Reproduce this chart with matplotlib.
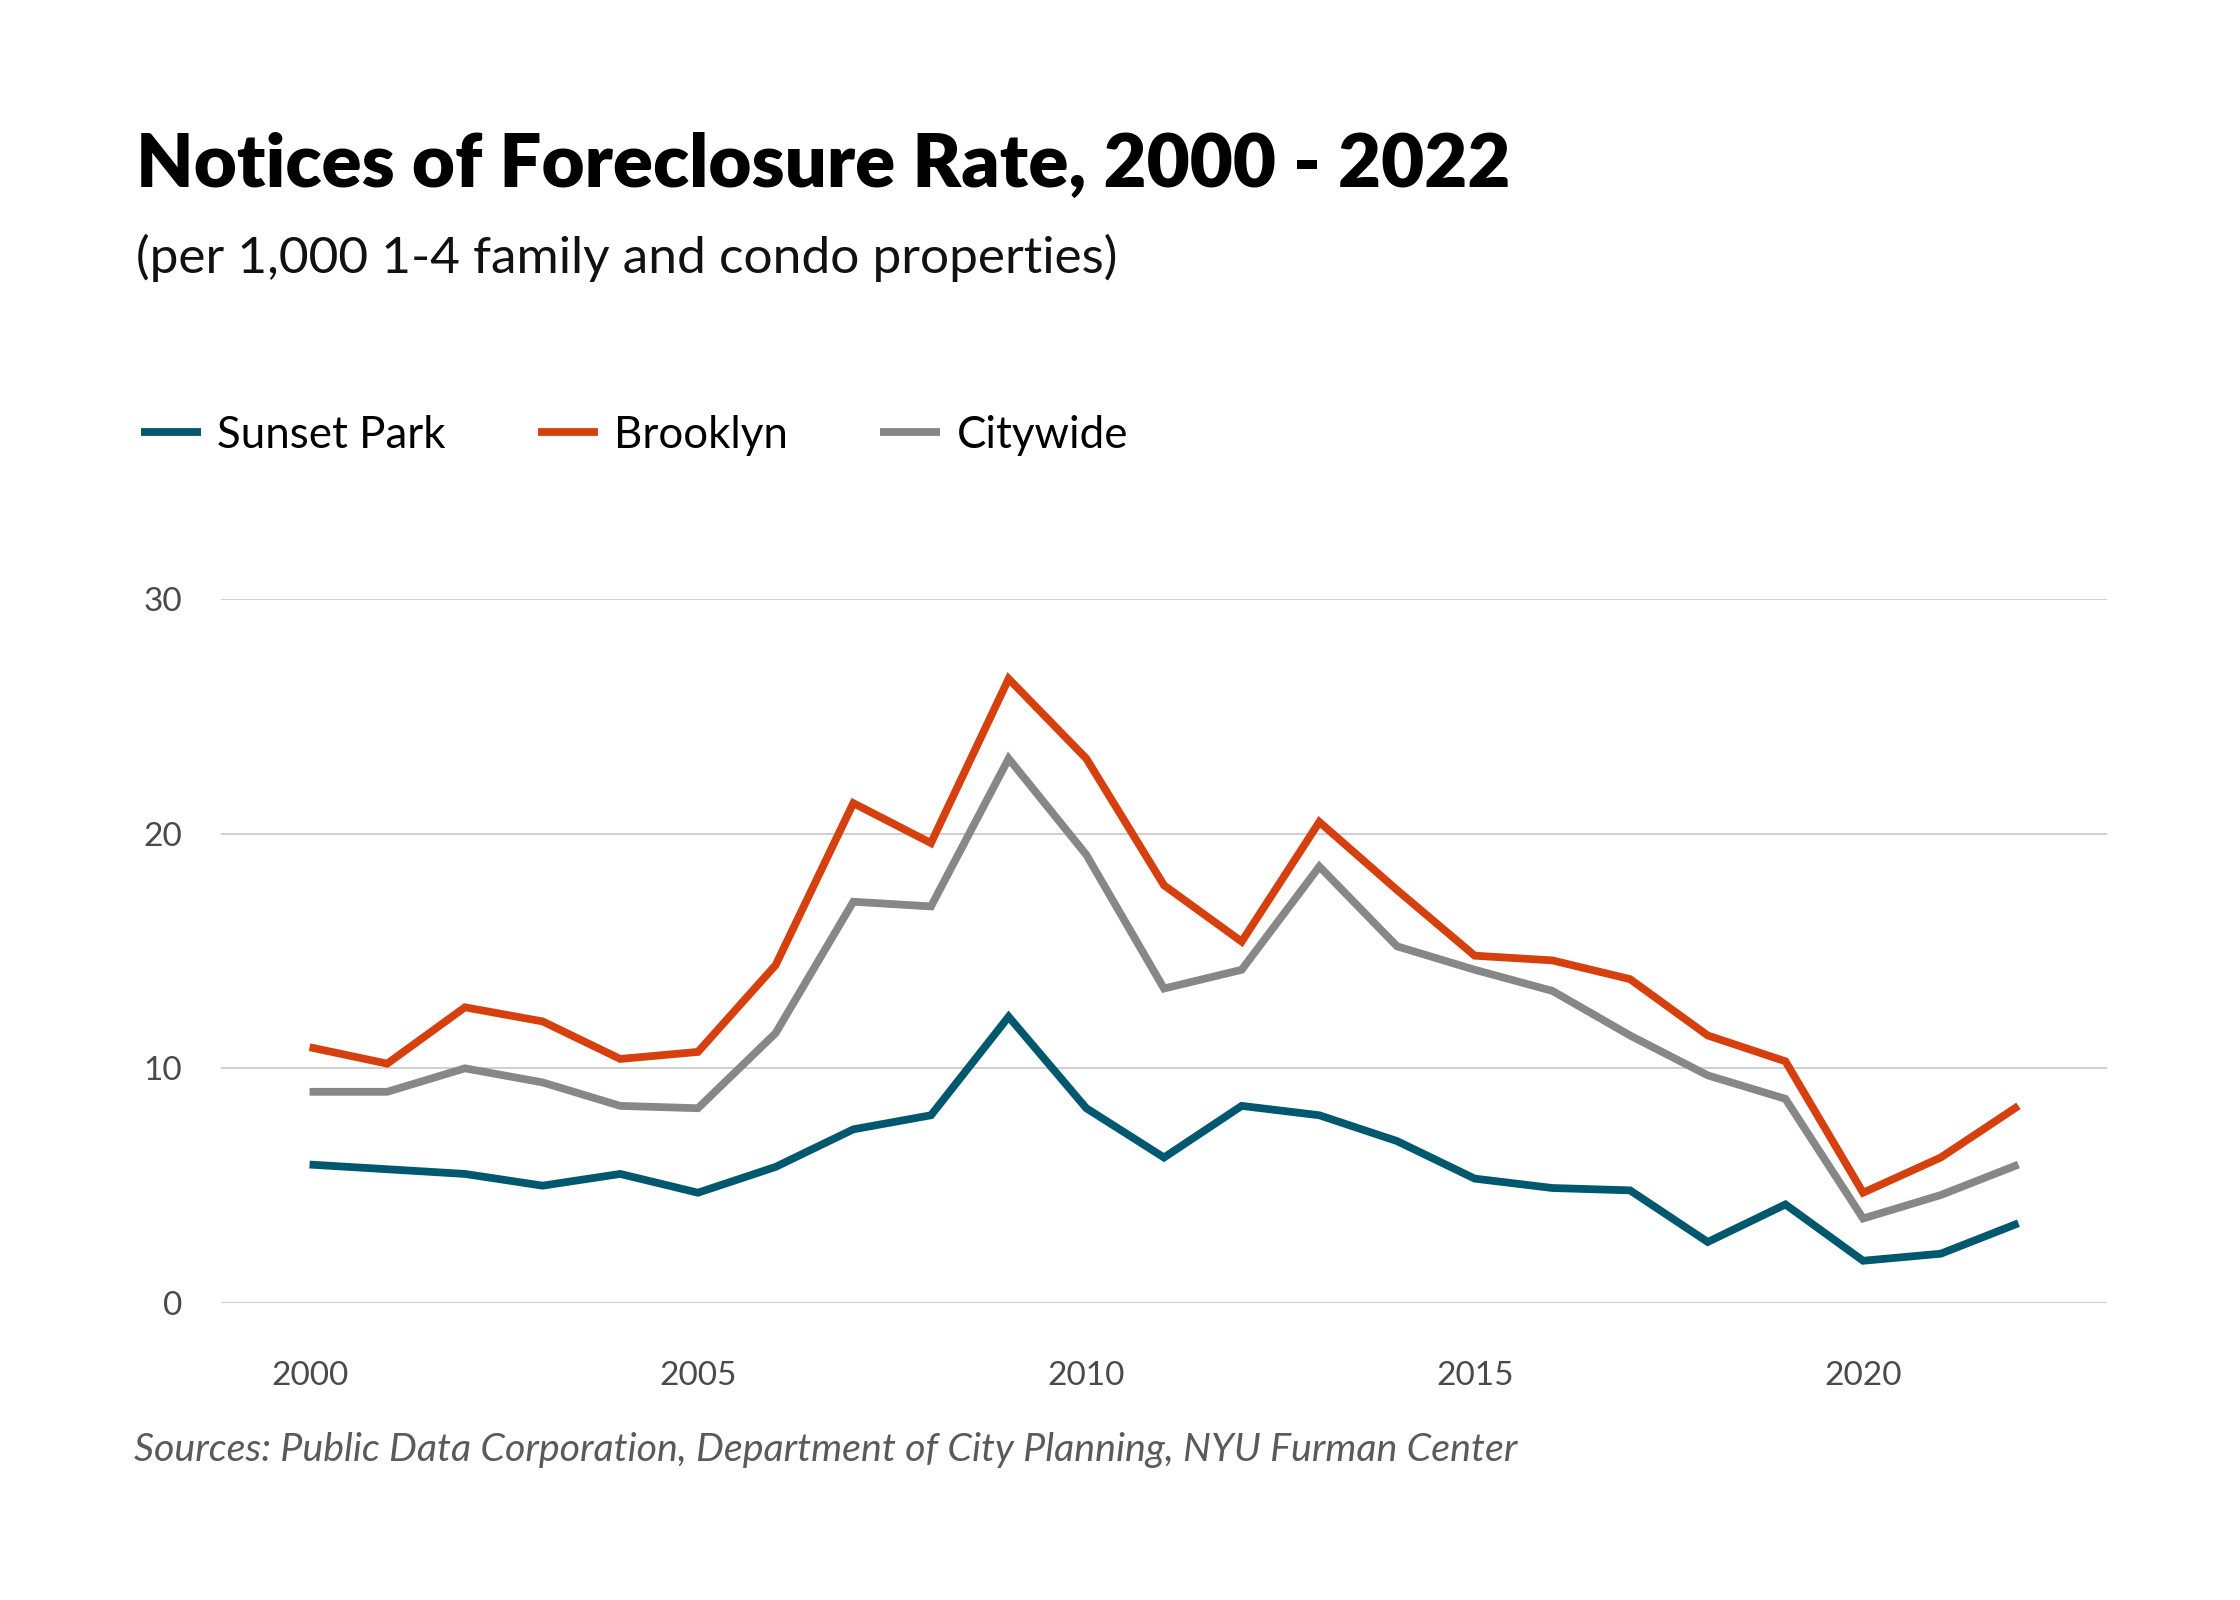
import matplotlib
matplotlib.use("Agg")
import matplotlib.pyplot as plt
from matplotlib.lines import Line2D

years = list(range(2000, 2023))
sunset_park = [5.9, 5.7, 5.5, 5.0, 5.5, 4.7, 5.8, 7.4, 8.0, 12.2, 8.3,
               6.2, 8.4, 8.0, 6.9, 5.3, 4.9, 4.8, 2.6, 4.2, 1.8, 2.1, 3.4]
brooklyn = [10.9, 10.2, 12.6, 12.0, 10.4, 10.7, 14.4, 21.3, 19.6, 26.6, 23.2,
            17.8, 15.4, 20.5, 17.6, 14.8, 14.6, 13.8, 11.4, 10.3, 4.7, 6.2, 8.4]
citywide = [9.0, 9.0, 10.0, 9.4, 8.4, 8.3, 11.5, 17.1, 16.9, 23.2, 19.1,
            13.4, 14.2, 18.6, 15.2, 14.2, 13.3, 11.4, 9.7, 8.7, 3.6, 4.6, 5.9]
series_names = ["Sunset Park", "Brooklyn", "Citywide"]
series_colors = ["#00586f", "#d6400f", "#878787"]
y_ticks = [0, 10, 20, 30]
x_ticks = [2000, 2005, 2010, 2015, 2020]

title = "Notices of Foreclosure Rate, 2000 - 2022"
subtitle = "(per 1,000 1-4 family and condo properties)"
source = "Sources: Public Data Corporation, Department of City Planning, NYU Furman Center"

plt.rcParams['font.family'] = ['Lato', 'DejaVu Sans']

W, H = 2240, 1600
fig = plt.figure(figsize=(W / 100, H / 100), dpi=100)
fig.patch.set_facecolor("white")

ax = fig.add_axes([221 / W, 1 - 1303 / H, (2107 - 221) / W, (1303 - 599) / H])
for name, vals, col in zip(series_names, [sunset_park, brooklyn, citywide], series_colors):
    ax.plot(years, vals, color=col, lw=5.6, solid_joinstyle="miter",
            solid_capstyle="butt", clip_on=False, zorder=3, label=name)

ax.set_xlim(1998.86, 2023.14)
ax.set_ylim(0, 30)
ax.set_yticks(y_ticks)
ax.set_xticks(x_ticks)
ax.set_yticklabels([str(v) for v in y_ticks])
ax.set_xticklabels([str(v) for v in x_ticks])
ax.grid(axis="y", color="#cccccc", lw=1.3)
ax.set_axisbelow(True)
for s in ax.spines.values():
    s.set_visible(False)
ax.tick_params(axis="both", length=0, labelsize=24, labelcolor="#4a4a4a")
ax.tick_params(axis="x", pad=42)
ax.tick_params(axis="y", pad=28)

fig.canvas.draw()
renderer = fig.canvas.get_renderer()


def fit_text(x, y, s, target_w, size, **kw):
    t = fig.text(x / W, 1 - y / H, s, fontsize=size, **kw)
    bb = t.get_window_extent(renderer=renderer)
    t.set_fontsize(size * target_w / bb.width)
    return t


fit_text(136, 166, title, 1371, 40, fontweight="heavy", color="#000000", va="center")
fit_text(136, 258, subtitle, 981, 30, color="#111111", va="center")
fit_text(134, 1450, source, 1386, 24, style="italic", color="#5a5a5a", va="center")

handles = [Line2D([], [], color=c, lw=5.6, solid_capstyle="butt") for c in series_colors]
fig.legend(handles, series_names, loc="center left", bbox_to_anchor=(141 / W, 1 - 435 / H),
           ncol=3, frameon=False, fontsize=31.6, handlelength=1.36, handletextpad=0.38,
           columnspacing=2.1, borderaxespad=0, borderpad=0)

fig.savefig("out.png", dpi=100, facecolor="white")
